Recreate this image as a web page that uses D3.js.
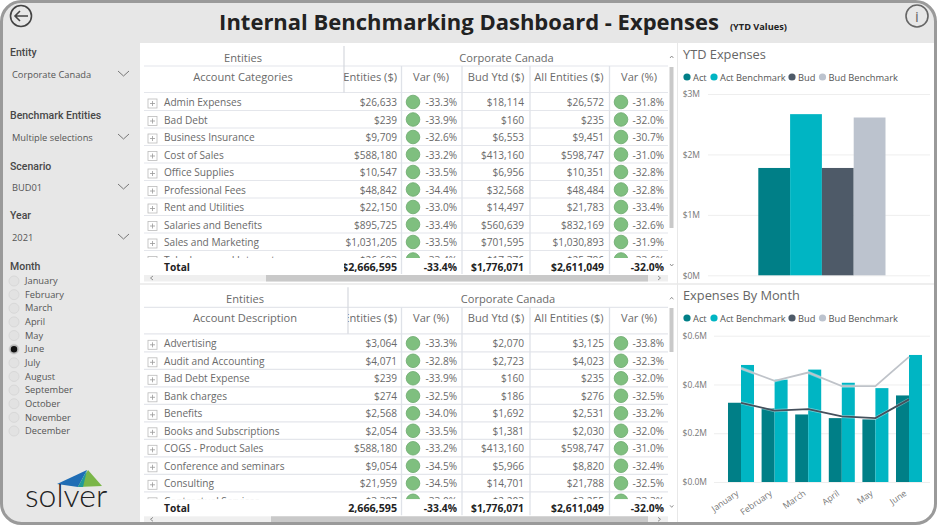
<!DOCTYPE html>
<html>
<head>
<meta charset="utf-8">
<script src="https://cdn.jsdelivr.net/npm/d3@7"></script>
<style>
  html, body { margin: 0; padding: 0; background: #fff; }
  text { font-family: "Open Sans", "Noto Sans", sans-serif; }
  .side { font-family: Roboto, sans-serif; font-weight: 500; }
</style>
</head>
<body>
<div id="chart"></div>
<script>
const width = 937;
const height = 525;

const colors = { act: "#007f87", actB: "#00b5c3", bud: "#4e5a68", budB: "#bcc3ce" };
const textCol = "#6a6a6a";
const lineCol = "#e4e6eb";
const bodySize = 10.1;
const headSize = 11.1;

const categories = [
  ["Admin Expenses", "$26,633", "-33.3%", "$18,114", "$26,572", "-31.8%"],
  ["Bad Debt", "$239", "-33.9%", "$160", "$235", "-32.0%"],
  ["Business Insurance", "$9,709", "-32.6%", "$6,553", "$9,451", "-30.7%"],
  ["Cost of Sales", "$588,180", "-33.2%", "$413,160", "$598,747", "-31.0%"],
  ["Office Supplies", "$10,547", "-33.5%", "$6,956", "$10,351", "-32.8%"],
  ["Professional Fees", "$48,842", "-34.4%", "$32,568", "$48,484", "-32.8%"],
  ["Rent and Utilities", "$22,150", "-33.0%", "$14,497", "$21,783", "-33.4%"],
  ["Salaries and Benefits", "$895,725", "-33.4%", "$560,639", "$832,169", "-32.6%"],
  ["Sales and Marketing", "$1,031,205", "-33.5%", "$701,595", "$1,030,893", "-31.9%"],
  ["Telephone and Internet", "$26,603", "-33.4%", "$17,376", "$25,786", "-33.6%"]
];
const descriptions = [
  ["Advertising", "$3,064", "-33.3%", "$2,070", "$3,125", "-33.8%"],
  ["Audit and Accounting", "$4,071", "-32.8%", "$2,723", "$4,023", "-32.3%"],
  ["Bad Debt Expense", "$239", "-33.9%", "$160", "$235", "-32.0%"],
  ["Bank charges", "$274", "-32.5%", "$186", "$276", "-32.5%"],
  ["Benefits", "$2,568", "-34.0%", "$1,692", "$2,531", "-33.2%"],
  ["Books and Subscriptions", "$2,054", "-33.5%", "$1,381", "$2,030", "-32.0%"],
  ["COGS - Product Sales", "$588,180", "-33.2%", "$413,160", "$598,747", "-31.0%"],
  ["Conference and seminars", "$9,054", "-34.5%", "$5,966", "$8,820", "-32.4%"],
  ["Consulting", "$21,959", "-34.5%", "$14,701", "$21,788", "-32.5%"],
  ["Contractual Services", "$3,307", "-33.0%", "$2,203", "$3,255", "-33.3%"]
];
const totals = ["$2,666,595", "-33.4%", "$1,776,071", "$2,611,049", "-32.0%"];

const ytd = [
  { name: "Act", value: 1776071, color: colors.act },
  { name: "Act Benchmark", value: 2666595, color: colors.actB },
  { name: "Bud", value: 1776071, color: colors.bud },
  { name: "Bud Benchmark", value: 2611049, color: colors.budB }
];
const byMonth = [
  { month: "January", act: 0.325, actB: 0.48, bud: 0.325, budB: 0.466 },
  { month: "February", act: 0.302, actB: 0.42, bud: 0.293, budB: 0.415 },
  { month: "March", act: 0.277, actB: 0.461, bud: 0.299, budB: 0.449 },
  { month: "April", act: 0.262, actB: 0.407, bud: 0.269, budB: 0.393 },
  { month: "May", act: 0.257, actB: 0.385, bud: 0.262, budB: 0.393 },
  { month: "June", act: 0.355, actB: 0.521, bud: 0.339, budB: 0.513 }
];

const svg = d3.select("#chart").append("svg")
  .attr("width", width)
  .attr("height", height)
  .style("display", "block");

const defs = svg.append("defs");
defs.append("clipPath").attr("id", "frameClip")
  .append("rect").attr("x", 2).attr("y", 2).attr("width", 933).attr("height", 521).attr("rx", 20);

const page = svg.append("g").attr("clip-path", "url(#frameClip)");
page.append("rect").attr("width", width).attr("height", height).attr("fill", "#e7e7e7");
page.append("rect").attr("x", 140).attr("y", 43).attr("width", 800).attr("height", 485).attr("fill", "#fff");

// title
svg.append("text").attr("x", 469).attr("y", 30).attr("text-anchor", "middle")
  .attr("font-size", 22).attr("font-weight", 700).attr("fill", "#222")
  .text("Internal Benchmarking Dashboard - Expenses");
svg.append("text").attr("x", 730).attr("y", 30)
  .attr("font-size", 9.2).attr("font-weight", 700).attr("fill", "#222")
  .text("(YTD Values)");

// back + info buttons
const back = svg.append("g").attr("fill", "none").attr("stroke", "#444").attr("stroke-width", 1.6);
back.append("circle").attr("cx", 21).attr("cy", 16).attr("r", 10.5);
back.append("path").attr("d", "M15,16H28M20,11L15,16L20,21");
svg.append("circle").attr("cx", 917).attr("cy", 16).attr("r", 11)
  .attr("fill", "none").attr("stroke", "#666").attr("stroke-width", 1.6);
svg.append("text").attr("x", 917).attr("y", 21.5).attr("text-anchor", "middle")
  .attr("font-size", 15).attr("fill", "#666").text("i");

// slicers
const slicers = [
  { label: "Entity", y: 52, value: "Corporate Canada", vy: 74 },
  { label: "Benchmark Entities", y: 115, value: "Multiple selections", vy: 137 },
  { label: "Scenario", y: 165.5, value: "BUD01", vy: 187 },
  { label: "Year", y: 215, value: "2021", vy: 237 }
];
slicers.forEach(function (s) {
  svg.append("text").attr("class", "side").attr("x", 10).attr("y", s.y + 4)
    .attr("font-size", 10.5).attr("fill", "#484848").text(s.label);
  svg.append("text").attr("x", 12).attr("y", s.vy + 3.5)
    .attr("font-size", 9.3).attr("fill", "#555").text(s.value);
  svg.append("path").attr("d", "M118," + (s.vy - 3) + "l5.5,5l5.5,-5")
    .attr("fill", "none").attr("stroke", "#777");
});
svg.append("text").attr("class", "side").attr("x", 10).attr("y", 269.5)
  .attr("font-size", 10.5).attr("fill", "#484848").text("Month");

const months = ["January", "February", "March", "April", "May", "June", "July", "August", "September", "October", "November", "December"];
const monthY = d3.scalePoint().domain(months).range([281, 431]);
const monthRows = svg.append("g").selectAll("g").data(months).enter().append("g")
  .attr("transform", d => "translate(0," + monthY(d) + ")");
monthRows.append("circle").attr("cx", 14).attr("r", 5)
  .attr("fill", "#e2e2e2").attr("stroke", "#d8d8d8");
monthRows.append("text").attr("x", 25).attr("y", 3.2)
  .attr("font-size", 9.3).attr("fill", "#555").text(d => d);
svg.append("circle").attr("cx", 14).attr("cy", monthY("June")).attr("r", 4).attr("fill", "#111")
  .attr("stroke", "#bbb").attr("stroke-width", 1.5);

// logo
const logo = svg.append("g");
logo.append("path").attr("d", "M57,484L87,470L78,487Z").attr("fill", "#1f6db5");
logo.append("path").attr("d", "M88,470L102,486L78,487Z").attr("fill", "#7ab648");
logo.append("path").attr("d", "M87,470L78,487L83,487Z").attr("fill", "#1f9a9a");
logo.append("text").attr("x", 25).attr("y", 507).attr("font-size", 32).attr("font-weight", 300)
  .style("font-family", "Lato, sans-serif").attr("fill", "#222").text("solver");

function drawTable(top, sepX, name, rows, entX, corpX, thumb, hThumbX) {
  const g = svg.append("g");
  const rowY = d3.scaleLinear().domain([0, 1]).range([top + 59, top + 76.5]);
  const right = { a: 397, v1: 457, b: 524, c: 604, v2: 664 };
  const colLines = [401.5, 462, 530, 609.5];
  const bottom = top + 232;

  defs.append("clipPath").attr("id", "rows" + top)
    .append("rect").attr("x", 140).attr("y", top + 50).attr("width", 530).attr("height", 165);
  defs.append("clipPath").attr("id", "vals" + top)
    .append("rect").attr("x", sepX).attr("y", top).attr("width", 330).attr("height", 240);

  // grid lines
  [top + 23, top + 49.5].forEach(function (y) {
    g.append("line").attr("x1", 144).attr("x2", 668).attr("y1", y).attr("y2", y)
      .attr("stroke", lineCol).attr("stroke-width", 1.2);
  });
  rows.slice(0, 9).forEach(function (r, i) {
    g.append("line").attr("x1", 144).attr("x2", 668)
      .attr("y1", rowY(i) + 8.5).attr("y2", rowY(i) + 8.5)
      .attr("stroke", lineCol).attr("stroke-width", 1.2);
  });
  colLines.forEach(function (x) {
    g.append("line").attr("x1", x).attr("x2", x).attr("y1", top + 23).attr("y2", bottom - 3)
      .attr("stroke", "#dfe2e8").attr("stroke-width", 1.3);
  });
  g.append("line").attr("x1", sepX).attr("x2", sepX).attr("y1", top + 3).attr("y2", top + 49.5)
    .attr("stroke", "#d5d8de").attr("stroke-width", 1.2);

  // headers
  const txt = (parent, x, y, s, anchor, size, weight, col) => parent.append("text")
    .attr("x", x).attr("y", y).attr("text-anchor", anchor || "start")
    .attr("font-size", size || headSize).attr("font-weight", weight || 400)
    .attr("fill", col || textCol).text(s);
  txt(g, entX, top + 18.5, "Entities", "middle");
  txt(g, entX, top + 38, name, "middle");
  txt(g, corpX, top + 18.5, "Corporate Canada", "middle");
  const vals = g.append("g").attr("clip-path", "url(#vals" + top + ")");
  txt(vals, right.a, top + 38, "All Entities ($)", "end");
  txt(g, 431, top + 38, "Var (%)", "middle");
  txt(g, 496, top + 38, "Bud Ytd ($)", "middle");
  txt(g, 569, top + 38, "All Entities ($)", "middle");
  txt(g, 639, top + 38, "Var (%)", "middle");

  // body rows
  const body = g.append("g").attr("clip-path", "url(#rows" + top + ")");
  const row = body.selectAll("g").data(rows).enter().append("g")
    .attr("transform", (d, i) => "translate(0," + rowY(i) + ")");
  row.append("rect").attr("x", 148).attr("y", -3).attr("width", 9).attr("height", 9)
    .attr("fill", "#fff").attr("stroke", "#bbb").attr("stroke-width", 0.8);
  row.append("path").attr("d", "M150,1.5h5M152.5,-1v5").attr("stroke", "#999").attr("stroke-width", 0.8);
  row.append("text").attr("x", 164).attr("y", 4).attr("font-size", bodySize).attr("fill", textCol).text(d => d[0]);
  [[1, right.a], [2, right.v1], [3, right.b], [4, right.c], [5, right.v2]].forEach(function (c) {
    row.append("text").attr("x", c[1]).attr("y", 4).attr("text-anchor", "end")
      .attr("font-size", bodySize).attr("fill", textCol).text(d => d[c[0]]);
  });
  [413, 621].forEach(function (cx) {
    row.append("circle").attr("cx", cx).attr("cy", 0).attr("r", 6.8)
      .attr("fill", "#7fbf7f").attr("stroke", "#69a86c").attr("stroke-width", 0.8);
  });

  // total row
  g.append("rect").attr("x", 140).attr("y", top + 215).attr("width", 530).attr("height", 17).attr("fill", "#fff");
  colLines.forEach(function (x) {
    g.append("line").attr("x1", x).attr("x2", x).attr("y1", top + 215).attr("y2", bottom - 1)
      .attr("stroke", "#dfe2e8").attr("stroke-width", 1.3);
  });
  txt(g, 164, top + 228, "Total", "start", 10.2, 700, "#222");
  const totalClip = g.append("g").attr("clip-path", "url(#vals" + top + ")");
  txt(totalClip, right.a, top + 228, totals[0], "end", 10.7, 700, "#222");
  txt(g, right.v1, top + 228, totals[1], "end", 10.3, 700, "#222");
  txt(g, right.b, top + 228, totals[2], "end", 10.3, 700, "#222");
  txt(g, right.c, top + 228, totals[3], "end", 10.3, 700, "#222");
  txt(g, right.v2, top + 228, totals[4], "end", 10.3, 700, "#222");

  // scrollbars
  g.append("rect").attr("x", 144).attr("y", top + 232).attr("width", 524).attr("height", 6.5).attr("fill", "#efefef");
  g.append("rect").attr("x", hThumbX).attr("y", top + 232).attr("width", 648 - hThumbX).attr("height", 6.5).attr("fill", "#c9c9c9");
  g.append("path").attr("d", "M153," + (top + 233) + "l-2.5,2l2.5,2M658," + (top + 233) + "l2.5,2l-2.5,2")
    .attr("fill", "none").attr("stroke", "#777").attr("stroke-width", 0.8);
  g.append("rect").attr("x", 669.5).attr("y", thumb[0]).attr("width", 4).attr("height", thumb[1] - thumb[0]).attr("fill", "#c9c9c9");
  g.append("path").attr("d", "M670," + (top + 15) + "l1.7,-2l1.7,2M670," + (top + 221) + "l1.7,2l1.7,-2")
    .attr("fill", "none").attr("stroke", "#777").attr("stroke-width", 0.8);
}

drawTable(43, 344, "Account Categories", categories, 243, 506.5, [67, 228], 266);
drawTable(284.3, 348, "Account Description", descriptions, 245, 508, [308, 352], 271);

// panel separators
svg.append("line").attr("x1", 677.5).attr("x2", 677.5).attr("y1", 43).attr("y2", 522).attr("stroke", "#e8e8e8");
svg.append("line").attr("x1", 140).attr("x2", 935).attr("y1", 284).attr("y2", 284).attr("stroke", "#e8e8e8").attr("stroke-width", 1.5);

function legend(y) {
  const items = [["Act", colors.act, 687], ["Act Benchmark", colors.actB, 714], ["Bud", colors.bud, 792], ["Bud Benchmark", colors.budB, 822.5]];
  items.forEach(function (it) {
    svg.append("circle").attr("cx", it[2]).attr("cy", y).attr("r", 3.6).attr("fill", it[1]);
    svg.append("text").attr("x", it[2] + 6).attr("y", y + 3.5).attr("font-size", 9.3).attr("fill", "#555").text(it[0]);
  });
}

function styleAxis(g) {
  g.select(".domain").remove();
  g.selectAll(".tick line").attr("stroke", "#eeeeee");
  g.selectAll(".tick text").attr("fill", "#777").attr("font-size", 8.5)
    .style("font-family", "'Open Sans', sans-serif");
}

// YTD bars
svg.append("text").attr("x", 683).attr("y", 59).attr("font-size", 12.8).attr("fill", "#666").text("YTD Expenses");
legend(77);
const y1 = d3.scaleLinear().domain([0, 3000000]).range([275.3, 94]);
svg.append("g").attr("transform", "translate(708,0)")
  .call(d3.axisLeft(y1).tickValues([0, 1000000, 2000000, 3000000]).tickSize(-222).tickPadding(8)
    .tickFormat(d => "$" + d / 1000000 + "M"))
  .call(styleAxis);
const x1 = d3.scaleBand().domain(ytd.map(d => d.name)).range([758.3, 885.5]);
svg.append("g").selectAll("rect").data(ytd).enter().append("rect")
  .attr("x", d => x1(d.name))
  .attr("y", d => y1(d.value))
  .attr("width", x1.bandwidth())
  .attr("height", d => y1(0) - y1(d.value))
  .attr("fill", d => d.color);

// monthly bars + lines
svg.append("text").attr("x", 683).attr("y", 300).attr("font-size", 12.8).attr("fill", "#666").text("Expenses By Month");
legend(318);
const y2 = d3.scaleLinear().domain([0, 0.6]).range([482, 335.7]);
svg.append("g").attr("transform", "translate(714,0)")
  .call(d3.axisLeft(y2).tickValues([0, 0.2, 0.4, 0.6]).tickSize(-216).tickPadding(7)
    .tickFormat(d => "$" + d.toFixed(1) + "M"))
  .call(styleAxis);
const x2 = d3.scaleBand().domain(byMonth.map(d => d.month)).range([724.2, 925.8]).paddingInner(0.226).paddingOuter(0.113);
const inner = d3.scaleBand().domain(["act", "actB"]).range([0, x2.bandwidth()]);
const groups = svg.append("g").selectAll("g").data(byMonth).enter().append("g")
  .attr("transform", d => "translate(" + x2(d.month) + ",0)");
["act", "actB"].forEach(function (k) {
  groups.append("rect")
    .attr("x", inner(k))
    .attr("y", d => y2(d[k]))
    .attr("width", inner.bandwidth())
    .attr("height", d => y2(0) - y2(d[k]))
    .attr("fill", colors[k]);
});
const lineFor = k => d3.line().x(d => x2(d.month) + x2.bandwidth() / 2).y(d => y2(d[k]));
[["budB", "#bfc3c9"], ["bud", "#45505c"]].forEach(function (l) {
  svg.append("path").attr("d", lineFor(l[0])(byMonth)).attr("fill", "none")
    .attr("stroke", "#fff").attr("stroke-opacity", 0.4).attr("stroke-width", 3.2);
  svg.append("path").attr("d", lineFor(l[0])(byMonth)).attr("fill", "none")
    .attr("stroke", l[1]).attr("stroke-width", 1.8);
});
svg.append("g").attr("transform", "translate(0,482)")
  .call(d3.axisBottom(x2).tickSize(0).tickPadding(5))
  .call(styleAxis)
  .selectAll(".tick text")
  .attr("font-size", 8.7)
  .attr("text-anchor", "end")
  .attr("dx", "-1em")
  .attr("dy", "0.5em")
  .attr("transform", "rotate(-35)");

// frame on top
svg.append("rect").attr("x", 1.5).attr("y", 1.5).attr("width", 934).attr("height", 522).attr("rx", 20)
  .attr("fill", "none").attr("stroke", "#9a9a9a").attr("stroke-width", 3);
</script>
</body>
</html>
